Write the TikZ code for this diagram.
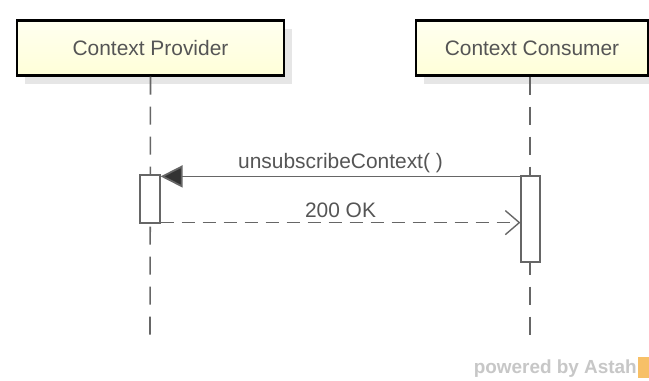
\documentclass[tikz,border=0pt]{standalone}
\usepackage{fontspec}
\setmainfont{Liberation Sans}
\usetikzlibrary{arrows.meta,shadows}
\definecolor{boxfill}{HTML}{FFFFD8}
\definecolor{boxfilltop}{HTML}{FFFFF0}
\definecolor{txt}{HTML}{555555}
\definecolor{linegray}{HTML}{666666}
\definecolor{astahorange}{HTML}{F5B041}
\tikzset{
  actor/.style={draw=black, line width=2.4pt, minimum width=267bp, minimum height=55bp,
    inner sep=0pt, text=txt, font=\fontsize{21}{24}\selectfont,
    top color=boxfilltop, bottom color=boxfill,
    drop shadow={shadow xshift=8bp, shadow yshift=-8bp, fill=black!12, opacity=0.8}},
  lifeline/.style={draw=linegray, line width=1.6pt, dash pattern=on 18bp off 12bp},
  activation/.style={draw=linegray, line width=1.2pt, fill=white, inner sep=0pt},
  msgcall/.style={draw=linegray, line width=1.8pt, -{Triangle[length=22bp, width=22bp, fill=black!80]}},
  msgreturn/.style={draw=linegray, line width=1.4pt, dash pattern=on 13bp off 8bp,
    -{Straight Barb[length=14bp, width=24bp, line width=1.4pt]}},
  msglabel/.style={text=txt, font=\fontsize{21}{24}\selectfont, inner sep=0pt}
}
\begin{document}
\begin{tikzpicture}[x=1bp, y=-1bp]
  \useasboundingbox[fill=white] (0,0) rectangle (649,380);

  % participants
  \node[actor, minimum width=267bp] (prov) at (150.5,48) {Context Provider};
  \node[actor, minimum width=232bp] (cons) at (532,48) {Context Consumer};

  % lifeline ends
  \coordinate (provEnd) at (150,336);
  \coordinate (consEnd) at (530,336);
  \draw[lifeline] (prov.south) -- (provEnd);
  \draw[lifeline] (cons.south -| consEnd) -- (consEnd);

  % activation bars
  \node[activation, minimum width=20bp, minimum height=48bp] (actP) at (150,199) {};
  \node[activation, minimum width=19bp, minimum height=86bp] (actC) at (530.5,219) {};

  % messages
  \draw[msgcall] (actC.north west) ++(0,1) coordinate (callStart) -- (callStart -| actP.east)
    node[msglabel, midway, above=3bp] {unsubscribeContext( )};
  \draw[msgreturn] (actP.south east) ++(0,-1) coordinate (retStart) -- (retStart -| actC.west)
    node[msglabel, midway, above=4bp] {200 OK};

  % footer
  \node[anchor=east, text=black!22, font=\bfseries\fontsize{19}{22}\selectfont, inner sep=0pt] (powered) at (637,369) {powered by Astah};
  \fill[astahorange!80] (638,357) rectangle (649,378);
\end{tikzpicture}
\end{document}
